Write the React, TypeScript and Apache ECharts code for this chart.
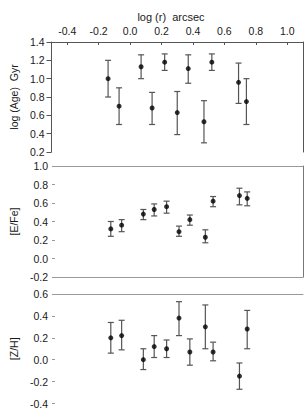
import React, { useEffect, useRef } from "react";
import * as echarts from "echarts";

const logR = [-0.14, -0.07, 0.07, 0.14, 0.22, 0.3, 0.37, 0.47, 0.52, 0.69, 0.74];
const xTicks = [-0.4, -0.2, 0.0, 0.2, 0.4, 0.6, 0.8, 1.0];

const age = [1.0, 0.7, 1.13, 0.68, 1.18, 0.63, 1.11, 0.53, 1.18, 0.96, 0.75];
const ageLo = [0.8, 0.5, 1.0, 0.5, 1.09, 0.39, 0.95, 0.3, 1.09, 0.73, 0.5];
const ageHi = [1.2, 0.9, 1.26, 0.85, 1.27, 0.86, 1.26, 0.76, 1.27, 1.17, 1.0];

const efe = [0.32, 0.36, 0.48, 0.53, 0.56, 0.29, 0.42, 0.23, 0.62, 0.68, 0.65];
const efeLo = [0.24, 0.29, 0.42, 0.46, 0.49, 0.24, 0.36, 0.17, 0.56, 0.58, 0.57];
const efeHi = [0.4, 0.42, 0.53, 0.59, 0.62, 0.35, 0.47, 0.31, 0.67, 0.76, 0.72];

const zh = [0.2, 0.22, 0.0, 0.12, 0.1, 0.38, 0.07, 0.3, 0.07, -0.15, 0.28];
const zhLo = [0.06, 0.09, -0.09, 0.02, 0.02, 0.22, -0.05, 0.1, -0.01, -0.27, 0.1];
const zhHi = [0.34, 0.36, 0.1, 0.22, 0.18, 0.53, 0.19, 0.5, 0.16, -0.03, 0.45];

const FONT = "'Liberation Sans', Arial, sans-serif";
const TXT = "#1a1a1a";

function errSeries(xi: number, yi: number, lo: number[], hi: number[]) {
  return {
    type: "custom",
    xAxisIndex: xi,
    yAxisIndex: yi,
    data: logR.map((x, i) => [x, lo[i], hi[i]]),
    renderItem: (params: any, api: any) => {
      const a = api.coord([api.value(0), api.value(1)]);
      const b = api.coord([api.value(0), api.value(2)]);
      const st = { stroke: "#555", lineWidth: 1.2 };
      return {
        type: "group",
        children: [
          { type: "line", shape: { x1: a[0], y1: a[1], x2: b[0], y2: b[1] }, style: st },
          { type: "line", shape: { x1: a[0] - 3, y1: a[1], x2: a[0] + 3, y2: a[1] }, style: st },
          { type: "line", shape: { x1: b[0] - 3, y1: b[1], x2: b[0] + 3, y2: b[1] }, style: st },
        ],
      };
    },
    z: 2,
  };
}

function pts(xi: number, yi: number, vals: number[]) {
  return {
    type: "scatter",
    xAxisIndex: xi,
    yAxisIndex: yi,
    data: logR.map((x, i) => [x, vals[i]]),
    symbol: "circle",
    symbolSize: 5,
    itemStyle: { color: "#000" },
    z: 3,
  };
}

function hiddenX(grid: number, pos: string, color: string) {
  return {
    type: "value",
    gridIndex: grid,
    position: pos,
    min: -0.5,
    max: 1.1,
    axisLine: { show: true, onZero: false, lineStyle: { color, width: 1 } },
    axisTick: { show: false },
    axisLabel: { show: false },
    splitLine: { show: false },
  };
}

function leftY(grid: number, min: number, max: number, name: string, line: boolean) {
  return {
    type: "value",
    gridIndex: grid,
    position: "left",
    min,
    max,
    interval: 0.2,
    name,
    nameLocation: "middle",
    nameGap: 26,
    nameRotate: 90,
    nameTextStyle: { fontFamily: FONT, fontSize: 10.5, color: TXT },
    axisLine: { show: line, onZero: false, lineStyle: { color: "#555" } },
    axisTick: { show: true, length: line ? 5 : 3, lineStyle: { color: line ? "#555" : "#999" } },
    axisLabel: {
      fontFamily: FONT,
      fontSize: 10.5,
      color: TXT,
      margin: 7,
      formatter: (v: number) => v.toFixed(1),
    },
    splitLine: { show: false },
  };
}

function rightY(grid: number, min: number, max: number, color: string) {
  return {
    type: "value",
    gridIndex: grid,
    position: "right",
    min,
    max,
    axisLine: { show: true, onZero: false, lineStyle: { color } },
    axisTick: { show: false },
    axisLabel: { show: false },
    splitLine: { show: false },
  };
}

export default function App() {
  const ref = useRef<HTMLDivElement>(null);
  useEffect(() => {
    if (!ref.current) return;
    const chart = echarts.init(ref.current, undefined, { renderer: "svg" });
    chart.setOption({
      animation: false,
      backgroundColor: "#fff",
      title: {
        text: "log (r)  arcsec",
        left: 166,
        textAlign: "center",
        top: 6,
        textStyle: { fontFamily: FONT, fontSize: 11, fontWeight: "normal", color: TXT },
      },
      grid: [
        { left: 39, top: 42, width: 264, height: 110 },
        { left: 39, top: 166, width: 264, height: 111 },
        { left: 39, top: 294, width: 264, height: 110 },
      ],
      xAxis: [
        {
          type: "value",
          gridIndex: 0,
          position: "top",
          min: -0.5,
          max: 1.1,
          axisLine: { show: true, onZero: false, lineStyle: { color: "#555" } },
          axisTick: { show: true, inside: true, length: 3, customValues: xTicks, lineStyle: { color: "#555" } },
          axisLabel: {
            customValues: xTicks,
            fontFamily: FONT,
            fontSize: 10.5,
            color: TXT,
            margin: 6,
            formatter: (v: number) => v.toFixed(1),
          },
          splitLine: { show: false },
        },
        hiddenX(1, "top", "#999"),
        hiddenX(1, "bottom", "#999"),
        hiddenX(2, "top", "#999"),
      ],
      yAxis: [
        leftY(0, 0.2, 1.4, "log (Age)  Gyr", true),
        rightY(0, 0.2, 1.4, "#555"),
        leftY(1, -0.2, 1.0, "[E/Fe]", false),
        rightY(1, -0.2, 1.0, "#777"),
        leftY(2, -0.4, 0.6, "[Z/H]", false),
      ],
      series: [
        errSeries(0, 0, ageLo, ageHi),
        pts(0, 0, age),
        errSeries(1, 2, efeLo, efeHi),
        pts(1, 2, efe),
        errSeries(3, 4, zhLo, zhHi),
        pts(3, 4, zh),
      ],
    });
    return () => chart.dispose();
  }, []);
  return (
    <div
      ref={ref}
      style={{ position: "fixed", left: 0, top: 0, width: 305, height: 409, background: "#fff" }}
    />
  );
}
